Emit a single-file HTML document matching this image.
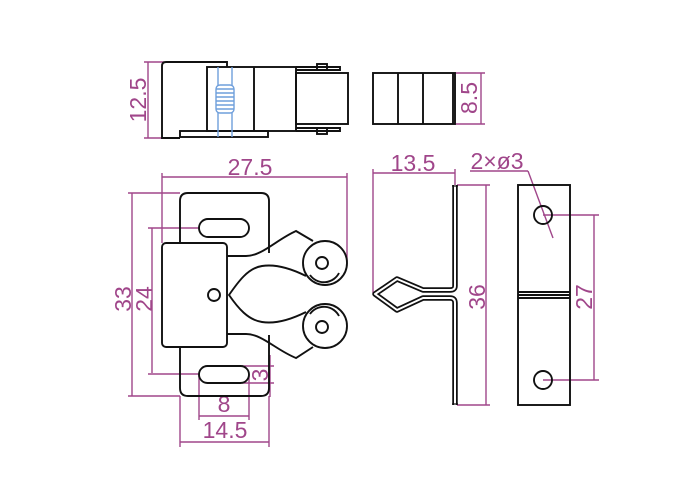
<!DOCTYPE html>
<html><head><style>
html,body{margin:0;padding:0;background:#fff;}
svg{display:block;}
text{font-family:"Liberation Sans",sans-serif;fill:#a0468a;font-size:23px;}
</style></head><body>
<svg width="700" height="500" viewBox="0 0 700 500" xmlns="http://www.w3.org/2000/svg">
<g fill="none" stroke="#a0468a" stroke-width="1.4">
 <line x1="148" y1="62" x2="148" y2="138"/>
 <line x1="144" y1="62" x2="164" y2="62"/>
 <line x1="144" y1="138" x2="164" y2="138"/>
 <line x1="481" y1="73" x2="481" y2="124"/>
 <line x1="455" y1="73" x2="485" y2="73"/>
 <line x1="455" y1="124" x2="485" y2="124"/>
 <line x1="162" y1="177" x2="347" y2="177"/>
 <line x1="162" y1="173" x2="162" y2="243"/>
 <line x1="347" y1="173" x2="347" y2="262"/>
 <line x1="132" y1="193" x2="132" y2="396"/>
 <line x1="128" y1="193" x2="180" y2="193"/>
 <line x1="128" y1="396" x2="180" y2="396"/>
 <line x1="152" y1="228" x2="152" y2="373"/>
 <line x1="148" y1="228" x2="200" y2="228"/>
 <line x1="148" y1="374" x2="200" y2="374"/>
 <line x1="270" y1="355" x2="270" y2="397"/>
 <line x1="242" y1="366" x2="274" y2="366"/>
 <line x1="242" y1="383" x2="274" y2="383"/>
 <line x1="199" y1="416" x2="249" y2="416"/>
 <line x1="199" y1="375" x2="199" y2="420"/>
 <line x1="249" y1="375" x2="249" y2="420"/>
 <line x1="180" y1="442" x2="269" y2="442"/>
 <line x1="180" y1="396" x2="180" y2="447"/>
 <line x1="269" y1="396" x2="269" y2="447"/>
 <line x1="373" y1="173" x2="455" y2="173"/>
 <line x1="373" y1="169" x2="373" y2="293"/>
 <line x1="455" y1="169" x2="455" y2="185"/>
 <line x1="470" y1="171" x2="528" y2="171"/>
 <line x1="528" y1="171" x2="553" y2="238"/>
 <line x1="486" y1="185" x2="486" y2="405"/>
 <line x1="457" y1="185" x2="490" y2="185"/>
 <line x1="457" y1="405" x2="490" y2="405"/>
 <line x1="594" y1="215" x2="594" y2="380"/>
 <line x1="543" y1="215" x2="599" y2="215"/>
 <line x1="543" y1="380" x2="599" y2="380"/>
</g>
<text transform="translate(146,100) rotate(-90)" text-anchor="middle">12.5</text>
<text transform="translate(477,98) rotate(-90)" text-anchor="middle">8.5</text>
<text x="250" y="175" text-anchor="middle">27.5</text>
<text transform="translate(131,299) rotate(-90)" text-anchor="middle">33</text>
<text transform="translate(152,299) rotate(-90)" text-anchor="middle">24</text>
<text transform="translate(268,375) rotate(-90)" text-anchor="middle">3</text>
<text x="224" y="412" text-anchor="middle">8</text>
<text x="225" y="438" text-anchor="middle">14.5</text>
<text x="413" y="171" text-anchor="middle">13.5</text>
<text x="497" y="169" text-anchor="middle">2×ø3</text>
<text transform="translate(485,297) rotate(-90)" text-anchor="middle">36</text>
<text transform="translate(592,297) rotate(-90)" text-anchor="middle">27</text>

<g fill="none" stroke="#111" stroke-width="1.9">
 <path d="M180 138 L162 138 L162 66 Q162 62 166 62 L227 62 L227 67"/>
 <rect x="207" y="67" width="89" height="64"/>
 <line x1="254" y1="67" x2="254" y2="131"/>
 <path d="M296 67 L340 67 L340 70 L296 70"/>
 <path d="M296 128 L340 128 L340 131 L296 131"/>
 <rect x="317" y="64" width="10" height="6"/>
 <rect x="317" y="128" width="10" height="6"/>
 <rect x="296" y="73" width="52" height="51"/>
 <rect x="180" y="131" width="88" height="6"/>
 <rect x="373" y="73" width="82" height="51"/>
 <line x1="398" y1="73" x2="398" y2="124"/>
 <line x1="423" y1="73" x2="423" y2="124"/>
 <line x1="453" y1="73" x2="453" y2="124"/>
 <path d="M180 243 L180 201 Q180 193 188 193 L261 193 Q269 193 269 201 L269 253"/>
 <path d="M269 335 L269 388 Q269 396 261 396 L188 396 Q180 396 180 388 L180 347"/>
 <rect x="199" y="219" width="50" height="18" rx="9"/>
 <rect x="199" y="366" width="50" height="17" rx="8.5"/>
 <rect x="162" y="243" width="65" height="104" rx="4"/>
 <circle cx="214" cy="295" r="6"/>
 <path d="M227 256 L246 256 C262 256 276 240 296 231 L313 241"/>
 <path d="M306 276 C290 268 275 264 262 266 C248 268 238 282 229 295 C238 308 248 320 262 322 C275 324 290 320 306 312"/>
 <path d="M227 334 L246 334 C262 334 276 350 296 358 L313 347"/>
 <circle cx="325" cy="263" r="22"/>
 <path d="M310 275 A17 17 0 0 0 339 273"/>
 <circle cx="322" cy="263" r="6"/>
 <circle cx="325" cy="326" r="22"/>
 <path d="M310 314 A17 17 0 0 1 339 316"/>
 <circle cx="322" cy="327" r="6"/>
 <rect x="518" y="185" width="52" height="220"/>
 <line x1="518" y1="292" x2="570" y2="292"/>
 <line x1="518" y1="295" x2="570" y2="295"/>
 <line x1="518" y1="298" x2="570" y2="298"/>
 <circle cx="543" cy="215" r="9"/>
 <circle cx="543" cy="380" r="9"/>
</g>
<path d="M455 185 L455 286 Q455 290 450 290 L423 290 L397 279 L375 294 L397 310 L423 298 L450 298 Q455 298 455 303 L455 405" fill="none" stroke="#111" stroke-width="5.5" stroke-linejoin="round"/>
<path d="M455 185 L455 286 Q455 290 450 290 L423 290 L397 279 L375 294 L397 310 L423 298 L450 298 Q455 298 455 303 L455 405" fill="none" stroke="#fff" stroke-width="2" stroke-linejoin="round"/>
<line x1="452" y1="186" x2="458" y2="186" stroke="#111" stroke-width="1.2"/>
<line x1="452" y1="404" x2="458" y2="404" stroke="#111" stroke-width="1.2"/>
<g stroke="#6f9fdc" stroke-width="1.4" fill="none">
 <line x1="218" y1="67" x2="218" y2="137"/>
 <line x1="232" y1="67" x2="232" y2="137"/>
 <rect x="216" y="85" width="18" height="28" rx="4" fill="#fff"/>
 <line x1="216" y1="89" x2="234" y2="89"/><line x1="216" y1="93" x2="234" y2="93"/>
 <line x1="216" y1="97" x2="234" y2="97"/><line x1="216" y1="101" x2="234" y2="101"/>
 <line x1="216" y1="105" x2="234" y2="105"/><line x1="216" y1="109" x2="234" y2="109"/>
</g>
</svg>
</body></html>
